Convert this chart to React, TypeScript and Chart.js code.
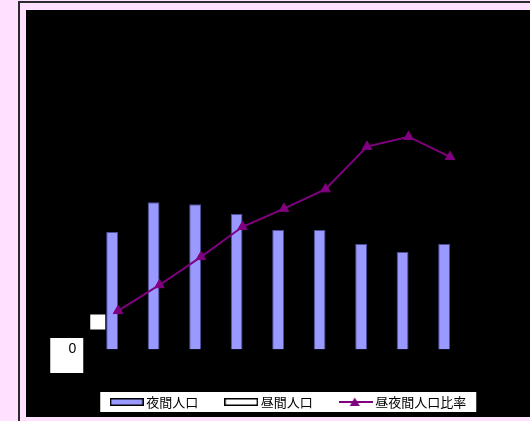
import { useEffect, useRef } from 'react';
import { Chart, registerables } from 'chart.js';

Chart.register(...registerables);

// ---- data ----
const categories = ['1960', '1965', '1970', '1975', '1980', '1985', '1990', '1995', '2000'];
const nightPopulation = [14700, 18450, 18200, 16950, 14950, 14950, 13200, 12200, 13200];
const dayPopulation: (number | null)[] = [null, null, null, null, null, null, null, null, null];
const dayNightRatio = [62.1, 70.2, 79.0, 88.4, 94.1, 100.2, 113.5, 116.6, 110.3];
const leftTickValues = [0];
const seriesNames = ['夜間人口', '昼間人口', '昼夜間人口比率'];

const PINK = '#ffe0ff';
const BAR_FILL = '#9999ff';
const BAR_BORDER = '#4d4d99';
const LINE_COLOR = '#800080';

function makeSwatch(kind: 'bar' | 'empty' | 'line'): HTMLCanvasElement {
  const c = document.createElement('canvas');
  c.width = 34;
  c.height = 10;
  const g = c.getContext('2d')!;
  if (kind === 'line') {
    g.strokeStyle = LINE_COLOR;
    g.lineWidth = 2;
    g.beginPath();
    g.moveTo(0, 5);
    g.lineTo(34, 5);
    g.stroke();
    g.fillStyle = LINE_COLOR;
    g.beginPath();
    g.moveTo(16, 0.5);
    g.lineTo(21, 9);
    g.lineTo(11, 9);
    g.closePath();
    g.fill();
  } else {
    g.fillStyle = kind === 'bar' ? BAR_FILL : '#ffffff';
    g.fillRect(1, 2, 32, 6);
    g.strokeStyle = '#000000';
    g.lineWidth = 1.5;
    g.strokeRect(0.75, 1.75, 32.5, 6.5);
  }
  return c;
}

const framePlugin = {
  id: 'frame',
  beforeDraw(chart: any) {
    const { ctx, width, height } = chart;
    ctx.save();
    ctx.fillStyle = PINK;
    ctx.fillRect(0, 0, width, height);
    ctx.strokeStyle = '#2b2b2b';
    ctx.lineWidth = 2;
    ctx.beginPath();
    ctx.moveTo(19, height);
    ctx.lineTo(19, 2);
    ctx.lineTo(width, 2);
    ctx.stroke();
    ctx.fillStyle = '#000000';
    ctx.fillRect(26, 10, width - 26, 407);

    const yScale = chart.scales.y;
    const y0 = yScale.getPixelForValue(0);
    ctx.fillStyle = '#ffffff';
    ctx.fillRect(yScale.right - 47, y0 - 11.5, 33, 35);
    ctx.fillRect(chart.chartArea.left - 7, y0 - 35, 15, 15);

    const legend = chart.legend;
    const hb = legend && legend.legendHitBoxes;
    if (hb && hb.length) {
      const first = hb[0];
      const last = hb[hb.length - 1];
      const left = first.left - 13.5;
      const right = last.left + last.width + 10;
      ctx.fillRect(left, first.top - 3.5, right - left, 20);
    }
    ctx.restore();
  },
};

export default function App() {
  const ref = useRef<HTMLCanvasElement | null>(null);

  useEffect(() => {
    if (!ref.current) return;
    const swatches = [makeSwatch('bar'), makeSwatch('empty'), makeSwatch('line')];
    const chart = new Chart(ref.current, {
      type: 'bar',
      data: {
        labels: categories,
        datasets: [
          {
            type: 'bar',
            label: seriesNames[0],
            data: nightPopulation,
            backgroundColor: BAR_FILL,
            borderColor: BAR_BORDER,
            borderWidth: 1,
            yAxisID: 'y',
            order: 0,
            barPercentage: 1,
            categoryPercentage: 0.57,
          },
          {
            type: 'bar',
            label: seriesNames[1],
            data: dayPopulation,
            backgroundColor: '#ffffff',
            borderColor: '#000000',
            borderWidth: 1,
            yAxisID: 'y',
            order: 0,
            barPercentage: 1,
            categoryPercentage: 0.57,
          },
          {
            type: 'line',
            label: seriesNames[2],
            data: dayNightRatio,
            borderColor: LINE_COLOR,
            backgroundColor: LINE_COLOR,
            borderWidth: 2,
            pointStyle: 'triangle',
            pointRadius: 5.5,
            pointBorderWidth: 1,
            pointBackgroundColor: LINE_COLOR,
            pointBorderColor: LINE_COLOR,
            tension: 0,
            yAxisID: 'y1',
            order: -1,
          },
        ] as any,
      },
      options: {
        responsive: false,
        animation: false,
        events: [],
        layout: { padding: { left: 50, right: 0, top: 30, bottom: 2.5 } },
        scales: {
          x: {
            display: true,
            offset: true,
            grid: { display: false, drawTicks: false },
            border: { display: false },
            ticks: { display: false },
            afterFit: (s: any) => {
              s.height = 16;
            },
          },
          y: {
            position: 'left',
            min: 0,
            max: 40000,
            grid: { display: false, drawTicks: false },
            border: { display: false },
            afterBuildTicks: (s: any) => {
              s.ticks = leftTickValues.map((v) => ({ value: v }));
            },
            ticks: {
              padding: 21,
              color: '#000000',
              font: { family: '"Liberation Sans", Arial, sans-serif', size: 14 },
              callback: (v: any) => String(v),
            },
            afterFit: (s: any) => {
              s.width = 47.25;
            },
          },
          y1: {
            position: 'right',
            min: 50,
            max: 150,
            grid: { display: false, drawTicks: false },
            border: { display: false },
            ticks: { display: false },
            afterFit: (s: any) => {
              s.width = 59.25;
            },
          },
        },
        plugins: {
          tooltip: { enabled: false },
          legend: {
            display: true,
            position: 'bottom',
            labels: {
              usePointStyle: true,
              pointStyleWidth: 26,
              boxHeight: 13,
              padding: 30,
              color: '#000000',
              font: { family: '"Noto Sans CJK JP", sans-serif', size: 13 },
              generateLabels: () =>
                seriesNames.map((name, i) => ({
                  text: name,
                  pointStyle: swatches[i] as any,
                  datasetIndex: i,
                  hidden: false,
                  fillStyle: 'transparent',
                  strokeStyle: 'transparent',
                  lineWidth: 0,
                  fontColor: '#000000',
                })),
            },
          },
        },
      } as any,
      plugins: [framePlugin],
    });
    return () => chart.destroy();
  }, []);

  return (
    <div style={{ position: 'absolute', left: 0, top: 0, width: 530, height: 421, background: PINK }}>
      <canvas ref={ref} width={530} height={421} style={{ display: 'block', width: 530, height: 421 }} />
    </div>
  );
}
